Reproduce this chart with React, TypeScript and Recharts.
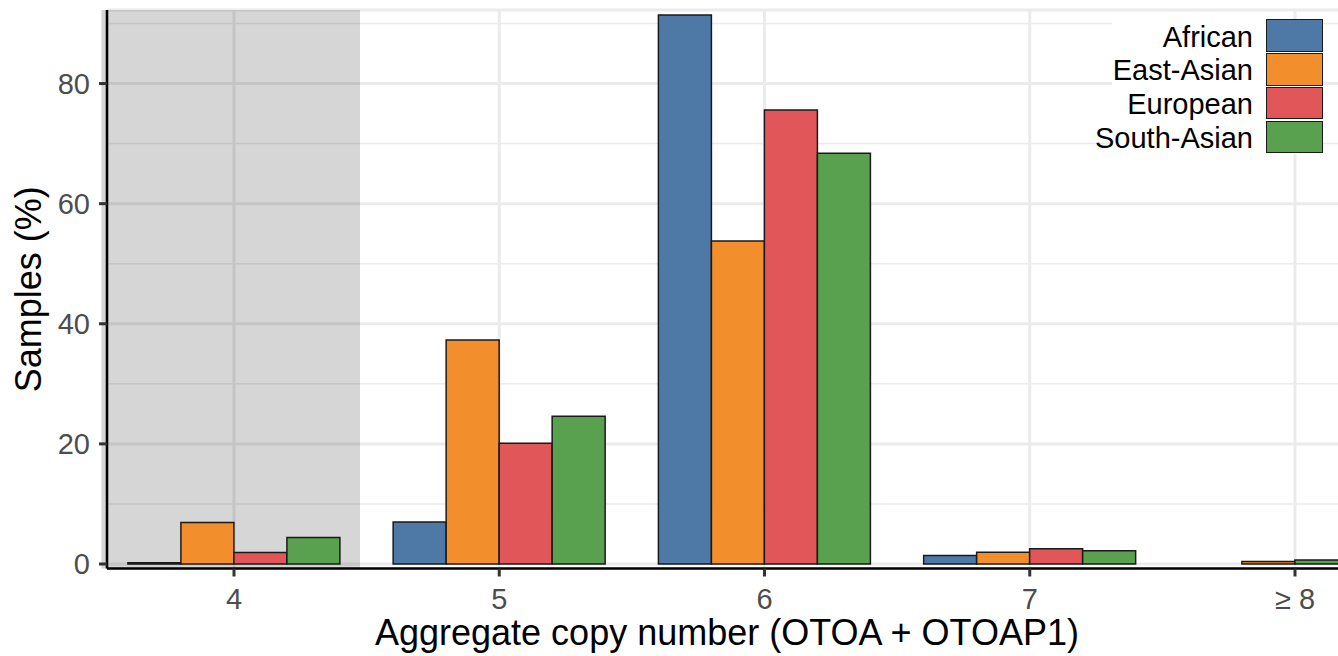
import React from 'react';
import { BarChart, Bar, XAxis, YAxis, CartesianGrid, ReferenceArea, Legend, Cell, Label } from 'recharts';

// ---- data ----
const categories = ['4', '5', '6', '7', '≥ 8'];
const african: (number | null)[] = [0.2, 7.0, 91.4, 1.4, null];
const eastAsian: (number | null)[] = [6.9, 37.3, 53.8, 1.95, 0.4];
const european: (number | null)[] = [1.9, 20.1, 75.6, 2.55, null];
const southAsian: (number | null)[] = [4.4, 24.6, 68.4, 2.2, 0.65];

const seriesNames = ['African', 'East-Asian', 'European', 'South-Asian'];
const seriesColors = ['#4e79a7', '#f28e2b', '#e15759', '#59a14f'];
const yTicks = [0, 20, 40, 60, 80];
const yMinorTicks = [10, 30, 50, 70, 90];
const yDomain: [number, number] = [-0.75, 92.25];
// shaded region: from the left edge up to 0.475 category steps past category "4"
const shadeCategory = '4';
const shadeEndPastCentre = 0.475;

// ggplot's dodge (preserve = "single") centres the two groups present at "≥ 8",
// so the South-Asian value there falls in the third slot.
const data = categories.map((cat, i) => {
  const onlyTwo = african[i] == null && european[i] == null;
  return {
    cat,
    african: african[i],
    eastAsian: eastAsian[i],
    slot3: onlyTwo ? southAsian[i] : european[i],
    slot4: onlyTwo ? null : southAsian[i],
    slot3South: onlyTwo,
  };
});

// ---- layout ----
const CHART_W = 1347;
const CHART_H = 656;
const PLOT_LEFT = 107;
const PLOT_TOP = 10;
const PLOT_BOTTOM = 568.5;
const FONT = '"Liberation Sans", Arial, Helvetica, sans-serif';

const YTitle = () => {
  const cy = (PLOT_TOP + PLOT_BOTTOM) / 2;
  const x = 41;
  return (
    <text
      x={x}
      y={cy}
      transform={`rotate(-90 ${x} ${cy})`}
      textAnchor="middle"
      fontSize={36}
      fill="#000"
      fontFamily={FONT}
    >
      Samples (%)
    </text>
  );
};

const XTitle = () => {
  const cx = (PLOT_LEFT + CHART_W) / 2;
  return (
    <text x={cx} y={645} textAnchor="middle" fontSize={36} fill="#000" fontFamily={FONT}>
      Aggregate copy number (OTOA + OTOAP1)
    </text>
  );
};

const ShadeShape = (p: any) => {
  const x = Number(p.x);
  const w = Number(p.width);
  return (
    <rect
      x={x}
      y={p.y}
      width={w * (0.5 + shadeEndPastCentre)}
      height={p.height}
      fill="#000"
      fillOpacity={0.16}
      stroke="none"
    />
  );
};

const LegendBox = () => (
  <div style={{ background: '#fff', width: 211, display: 'flex', flexDirection: 'column', fontFamily: FONT }}>
    {seriesNames.map((n, i) => (
      <div
        key={n}
        style={{ display: 'flex', justifyContent: 'flex-end', alignItems: 'center', height: 33.8 }}
      >
        <span
          style={{
            fontSize: 29,
            lineHeight: 1,
            color: '#000',
            marginRight: 13,
            whiteSpace: 'nowrap',
            position: 'relative',
            top: 1.5,
          }}
        >
          {n}
        </span>
        <div
          style={{
            width: 57,
            height: 32.5,
            background: seriesColors[i],
            border: '1.5px solid #1a1a1a',
            boxSizing: 'border-box',
            flexShrink: 0,
          }}
        />
      </div>
    ))}
  </div>
);

export default function App() {
  const band = 265.25;
  const firstBandStart = 234 - band / 2;
  const padLeft = firstBandStart - PLOT_LEFT;
  const padRight = CHART_W - (firstBandStart + band * categories.length);
  return (
    <div
      style={{
        position: 'absolute',
        left: 0,
        top: 0,
        width: 1338,
        height: 656,
        overflow: 'hidden',
        background: '#fff',
        fontFamily: FONT,
      }}
    >
      <BarChart
        width={CHART_W}
        height={CHART_H}
        data={data}
        margin={{ top: PLOT_TOP, right: 0, bottom: 0, left: 0 }}
        barCategoryGap="10%"
        barGap={0}
      >
        <CartesianGrid stroke="#ebebeb" strokeWidth={1.5} vertical={false} horizontalValues={yMinorTicks} />
        <CartesianGrid stroke="#ebebeb" strokeWidth={3} />
        <XAxis
          dataKey="cat"
          type="category"
          height={CHART_H - PLOT_BOTTOM}
          padding={{ left: padLeft, right: padRight }}
          tickSize={8}
          tickMargin={11.5}
          tick={{ fill: '#4d4d4d', fontSize: 29, fontFamily: FONT }}
          tickLine={{ stroke: '#333', strokeWidth: 3 }}
          axisLine={{ stroke: '#000', strokeWidth: 2.5 }}
          interval={0}
        >
          <Label content={XTitle} />
        </XAxis>
        <YAxis
          domain={yDomain}
          ticks={yTicks}
          allowDataOverflow
          width={PLOT_LEFT}
          tickSize={8}
          tickMargin={9}
          tick={{ fill: '#4d4d4d', fontSize: 29, fontFamily: FONT }}
          tickLine={{ stroke: '#333', strokeWidth: 3 }}
          axisLine={{ stroke: '#000', strokeWidth: 2.5 }}
        >
          <Label content={YTitle} />
        </YAxis>
        <ReferenceArea
          x1={shadeCategory}
          x2={shadeCategory}
          fill="#000"
          fillOpacity={0.16}
          stroke="none"
          ifOverflow="hidden"
          shape={ShadeShape}
        />
        <Bar dataKey="african" name="African" fill={seriesColors[0]} stroke="#1a1a1a" strokeWidth={1.5} isAnimationActive={false} />
        <Bar dataKey="eastAsian" name="East-Asian" fill={seriesColors[1]} stroke="#1a1a1a" strokeWidth={1.5} isAnimationActive={false} />
        <Bar dataKey="slot3" name="European" fill={seriesColors[2]} stroke="#1a1a1a" strokeWidth={1.5} isAnimationActive={false}>
          {data.map((d) => (
            <Cell key={d.cat} fill={d.slot3South ? seriesColors[3] : seriesColors[2]} />
          ))}
        </Bar>
        <Bar dataKey="slot4" name="South-Asian" fill={seriesColors[3]} stroke="#1a1a1a" strokeWidth={1.5} isAnimationActive={false} />
        <Legend
          layout="horizontal"
          align="center"
          verticalAlign="middle"
          content={LegendBox}
          wrapperStyle={{ position: 'absolute', left: 1112, top: 18.65, width: 211, margin: 0, padding: 0 }}
        />
      </BarChart>
    </div>
  );
}
